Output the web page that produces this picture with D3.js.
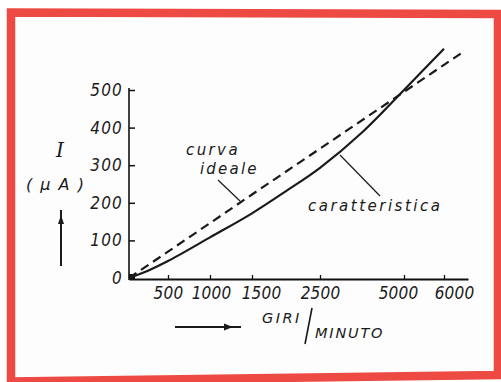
<!DOCTYPE html>
<html><head><meta charset="utf-8">
<script src="https://cdn.jsdelivr.net/npm/d3@7"></script>
<style>body{margin:0;background:#fff}svg{display:block}</style>
</head><body><svg id="c" width="501" height="382"></svg>
<script>
// ---- data ----
const xTicks = [500, 1000, 1500, 2500, 5000, 6000];
const yTicks = [0, 100, 200, 300, 400, 500];
const idealRpm = [0, 500, 1000, 1500, 2500, 5000, 6000, 6475];
const idealI   = [0, 70, 146, 222, 344, 495, 567, 601];
const charRpm  = [0, 250, 500, 1000, 1500, 2000, 2500, 3750, 5000, 6000];
const charI    = [0, 20, 45, 108, 172, 231, 293, 387, 500, 610];

// ---- layout ----
const svg = d3.select("#c");
const RED = "#ec4a43";
const FONT = "'DejaVu Sans Condensed', 'Liberation Sans Narrow', 'DejaVu Sans', sans-serif";
const FONT2 = "'DejaVu Sans', sans-serif";

// red frame (slightly skewed scan)
svg.append("path")
  .attr("d", "M11,12.5 L498,14 L498,375 L11,381.5 Z")
  .attr("fill", "#fdfdfd").attr("stroke", RED).attr("stroke-width", 8.5)
  .attr("stroke-linejoin", "miter");

// non-uniform rpm axis (piecewise linear)
const x = d3.scaleLinear()
  .domain([0, 500, 1000, 1500, 2500, 5000, 6000, 6600])
  .range([129, 168, 210, 252, 320, 404, 444, 468]);
const y = d3.scaleLinear().domain([0, 500]).range([278, 90]);

const yAxis = d3.axisLeft(y).tickValues(yTicks).tickFormat(d3.format("d"))
  .tickSizeInner(-6).tickSizeOuter(0).tickPadding(6);
const gy = svg.append("g").attr("transform", "translate(129,0)").call(yAxis);
gy.select(".domain").attr("stroke", "#111").attr("stroke-width", 1.6).attr("d", "M0,88V280");
gy.selectAll(".tick line").attr("stroke", "#111").attr("stroke-width", 1.5);
gy.selectAll(".tick text").attr("font-family", FONT).attr("font-style", "italic")
  .attr("font-stretch", "condensed")
  .attr("font-size", 17).attr("letter-spacing", 1.2).attr("fill", "#1a1a1a");

// label offsets as drawn in the original
const xLabelDx = {500: 0, 1000: 1, 1500: 9, 2500: 0, 5000: -6, 6000: 10};
const xAxis = d3.axisBottom(x).tickValues(xTicks).tickFormat(d3.format("d"))
  .tickSizeInner(-4).tickSizeOuter(0).tickPadding(8);
const gx = svg.append("g").attr("transform", "translate(0,279)").call(xAxis);
gx.select(".domain").attr("stroke", "#111").attr("stroke-width", 1.8);
gx.selectAll(".tick line").attr("stroke", "#111").attr("stroke-width", 1.3);
gx.selectAll(".tick text").attr("font-family", FONT).attr("font-style", "italic")
  .attr("font-stretch", "condensed")
  .attr("dx", d => xLabelDx[d])
  .attr("font-size", 17).attr("letter-spacing", 0.2).attr("fill", "#1a1a1a");

// origin blob
svg.append("rect").attr("x", 129).attr("y", 274).attr("width", 6).attr("height", 5).attr("fill", "#111");

// curves
const line = d3.line().x(d => x(d[0])).y(d => y(d[1]));
svg.append("path")
  .attr("d", line(idealRpm.map((r, i) => [r, idealI[i]])))
  .attr("fill", "none").attr("stroke", "#1a1a1a").attr("stroke-width", 2.2)
  .attr("stroke-dasharray", "9,5.5");
svg.append("path")
  .attr("d", line.curve(d3.curveCatmullRom)(charRpm.map((r, i) => [r, charI[i]])))
  .attr("fill", "none").attr("stroke", "#1a1a1a").attr("stroke-width", 2.2);

// annotations
const txt = (s, xx, yy, size, ls, extra) => {
  const t = svg.append("text").attr("x", xx).attr("y", yy).text(s)
    .attr("font-family", FONT2).attr("font-style", "italic")
    .attr("font-size", size).attr("letter-spacing", ls).attr("fill", "#1a1a1a");
  if (extra) extra(t);
  return t;
};
txt("I", 56, 157, 20, 0, t => t.attr("font-family", "'DejaVu Serif', serif"));
txt("( µ A )", 26, 190, 16, 1.5);
txt("curva", 186, 155, 15, 2.4);
txt("ideale", 200, 174, 15, 2.2);
txt("caratteristica", 308, 211, 15, 2.5);
txt("GIRI", 262, 323, 14.5, 2.5);
txt("MINUTO", 315, 338, 14.5, 1.8);

const ln = (x1, y1, x2, y2, w) => svg.append("line")
  .attr("x1", x1).attr("y1", y1).attr("x2", x2).attr("y2", y2)
  .attr("stroke", "#1a1a1a").attr("stroke-width", w);
ln(218, 180, 240, 201, 1.2);
ln(340, 155, 380, 196, 1.2);
ln(312, 308, 305, 344, 1.6);
// y arrow
ln(61, 210, 61, 266, 2);
svg.append("path").attr("d", "M58,224 L61,215 L64,224 Z").attr("fill", "#1a1a1a");
// x arrow
ln(175, 327, 241, 327, 1.8);
svg.append("path").attr("d", "M224,323.5 L233,327 L224,330.5 Z").attr("fill", "#1a1a1a");
</script>
</body></html>
